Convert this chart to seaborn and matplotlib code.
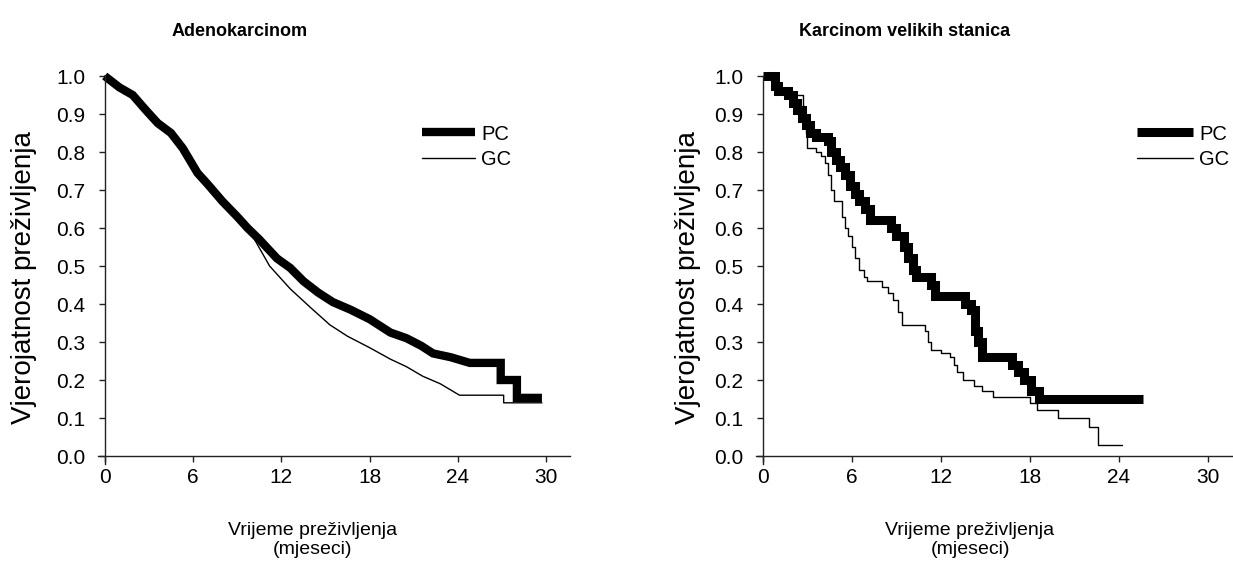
import numpy as np
import pandas as pd
import matplotlib
matplotlib.use('Agg')
import matplotlib.pyplot as plt
import seaborn as sns

sns.set_style('white')
plt.rcParams['font.family'] = ['Liberation Sans', 'DejaVu Sans']
plt.rcParams['text.color'] = 'black'
plt.rcParams['xtick.color'] = 'black'
plt.rcParams['ytick.color'] = 'black'

# --- data ---
# Adenokarcinom
adeno_pc_t = [0, 1, 1.9, 2.8, 3.6, 4.5, 5.3, 6.3, 7, 8, 9, 9.7, 10.5, 11.7, 12.6, 13.5,
              14.5, 15.5, 16.7, 18, 19.4, 20.5, 21.5, 22.3, 23.5, 24.8, 26.9, 26.9, 28, 28, 29.7]
adeno_pc_s = [1.0, 0.97, 0.95, 0.91, 0.876, 0.85, 0.81, 0.745, 0.715, 0.67, 0.63, 0.60, 0.57,
              0.52, 0.495, 0.46, 0.43, 0.405, 0.385, 0.36, 0.325, 0.31, 0.29, 0.27, 0.26, 0.245,
              0.245, 0.20, 0.20, 0.153, 0.153]
adeno_gc_t = [0, 1, 2, 3, 4, 5, 6, 7, 8, 9, 10.1, 11.2, 12.6, 14, 15.3, 16.5, 18, 19.4, 20.5,
              21.6, 22.8, 24.1, 27.1, 27.1, 29.7]
adeno_gc_s = [1.0, 0.975, 0.945, 0.905, 0.87, 0.83, 0.755, 0.71, 0.67, 0.63, 0.575, 0.50, 0.44,
              0.39, 0.345, 0.315, 0.285, 0.255, 0.235, 0.21, 0.19, 0.16, 0.16, 0.14, 0.14]

# Karcinom velikih stanica (step curves, value after each drop)
large_pc_t = [0, 0.8, 1.0, 1.7, 2.0, 2.3, 2.6, 2.9, 3.2, 3.6, 4.4, 4.6, 4.9, 5.2, 5.5, 5.9, 6.2,
              6.5, 6.9, 7.2, 8.6, 9.0, 9.5, 9.8, 10.1, 10.3, 11.3, 11.6, 13.6, 14.0, 14.3, 14.5,
              14.8, 16.8, 17.2, 17.6, 18.1, 18.6, 25.6]
large_pc_s = [1.0, 0.975, 0.96, 0.95, 0.93, 0.91, 0.89, 0.87, 0.85, 0.84, 0.83, 0.80, 0.78, 0.76,
              0.74, 0.71, 0.69, 0.67, 0.65, 0.62, 0.60, 0.58, 0.55, 0.52, 0.49, 0.47, 0.45, 0.42,
              0.40, 0.385, 0.33, 0.30, 0.26, 0.24, 0.22, 0.20, 0.17, 0.15, 0.15]
large_gc_t = [0, 0.8, 1.2, 1.5, 2.7, 2.8, 2.9, 3.0, 3.6, 3.9, 4.2, 4.4, 4.6, 4.8, 5.3, 5.5, 5.7,
              6.0, 6.2, 6.5, 6.8, 7.0, 8.0, 8.4, 8.8, 9.1, 9.4, 10.9, 11.1, 11.3, 12.0, 12.6, 12.9,
              13.1, 13.5, 14.2, 14.8, 15.5, 18.0, 18.5, 19.9, 22.0, 22.6, 24.2]
large_gc_s = [1.0, 0.98, 0.96, 0.95, 0.92, 0.885, 0.85, 0.81, 0.80, 0.79, 0.77, 0.74, 0.70, 0.67,
              0.63, 0.60, 0.58, 0.55, 0.52, 0.49, 0.47, 0.46, 0.445, 0.43, 0.41, 0.38, 0.345, 0.33,
              0.30, 0.28, 0.27, 0.26, 0.24, 0.22, 0.20, 0.185, 0.17, 0.155, 0.14, 0.12, 0.10, 0.077,
              0.03, 0.03]

x_ticks = [0, 6, 12, 18, 24, 30]
y_ticks = [0.0, 0.1, 0.2, 0.3, 0.4, 0.5, 0.6, 0.7, 0.8, 0.9, 1.0]


def draw_panel(ax, pc_t, pc_s, gc_t, gc_s, steps, pc_lw):
    ds = 'steps-post' if steps else 'default'
    pc = pd.DataFrame({'t': pc_t, 's': pc_s})
    gc = pd.DataFrame({'t': gc_t, 's': gc_s})
    sns.lineplot(data=pc, x='t', y='s', ax=ax, color='black', linewidth=pc_lw, sort=False,
                 estimator=None, drawstyle=ds, label='PC', clip_on=False,
                 solid_joinstyle='miter', solid_capstyle='butt')
    sns.lineplot(data=gc, x='t', y='s', ax=ax, color='black', linewidth=1.0, sort=False,
                 estimator=None, drawstyle=ds, label='GC', clip_on=False)
    ax.set_xlim(-0.45, 31.6)
    ax.set_ylim(-0.02, 1.0)
    ax.set_xticks(x_ticks)
    ax.set_yticks(y_ticks)
    ax.set_yticklabels([f'{v:.1f}' for v in y_ticks])
    ax.spines['left'].set_position(('data', 0))
    ax.spines['bottom'].set_position(('data', 0))
    ax.spines['top'].set_visible(False)
    ax.spines['right'].set_visible(False)
    for s in ('left', 'bottom'):
        ax.spines[s].set_linewidth(1.0)
        ax.spines[s].set_color('#222222')
    ax.tick_params(axis='both', direction='out', length=4.5, width=1.0, color='#222222',
                   labelsize=15, bottom=True, left=True)
    ax.tick_params(axis='x', pad=4)
    ax.tick_params(axis='y', pad=9.5)
    ax.set_xlabel('')
    ax.set_ylabel('')


fig = plt.figure(figsize=(12.33, 5.72), dpi=100)
ax1 = fig.add_axes([98.1 / 1233, 0.1895, 471.8 / 1233, 0.6776])
ax2 = fig.add_axes([756.3 / 1233, 0.1895, 475.3 / 1233, 0.6776])

draw_panel(ax1, adeno_pc_t, adeno_pc_s, adeno_gc_t, adeno_gc_s, False, 6.0)
draw_panel(ax2, large_pc_t, large_pc_s, large_gc_t, large_gc_s, True, 6.5)

ax1.legend(loc='center left', bbox_to_anchor=(0.6865, 0.818), frameon=False, fontsize=14.5,
           borderpad=0, borderaxespad=0, handlelength=2.65, handletextpad=0.3, labelspacing=0.3)
ax2.legend(loc='center left', bbox_to_anchor=(0.801, 0.818), frameon=False, fontsize=14.5,
           borderpad=0, borderaxespad=0, handlelength=2.8, handletextpad=0.3, labelspacing=0.3)

fig.text(240 / 1233, 1 - 31 / 572, 'Adenokarcinom', ha='center', va='center',
         fontsize=13, fontweight='bold')
fig.text(905 / 1233, 1 - 31 / 572, 'Karcinom velikih stanica', ha='center', va='center',
         fontsize=13, fontweight='bold')

for xc in (313, 970):
    fig.text(xc / 1233, 1 - 540 / 572, 'Vrijeme preživljenja\n(mjeseci)', ha='center',
             va='center', fontsize=14, linespacing=1.1)
for xc in (24, 688):
    fig.text(xc / 1233, 1 - 278 / 572, 'Vjerojatnost preživljenja', ha='center', va='center',
             rotation=90, fontsize=20)

fig.savefig('out.png', dpi=100, facecolor='white')
